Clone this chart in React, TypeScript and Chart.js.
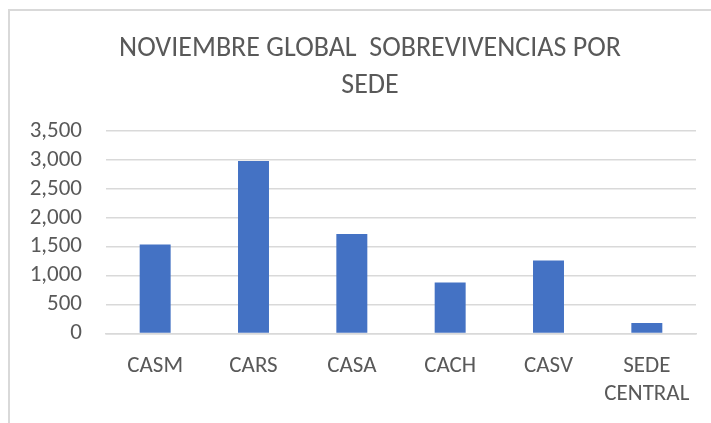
import React, { useEffect, useRef } from "react";
import { Chart, registerables } from "chart.js";

Chart.register(...registerables);

const categories: (string | string[])[] = ["CASM", "CARS", "CASA", "CACH", "CASV", ["SEDE", "CENTRAL"]];
const values: number[] = [1540, 2980, 1720, 880, 1260, 180];
const titleLines: string[] = ["NOVIEMBRE GLOBAL  SOBREVIVENCIAS POR", "SEDE"];
const yMax = 3500;
const yStep = 500;

const FONT = "Carlito, Calibri, 'Liberation Sans Narrow', 'Roboto', sans-serif";
const TEXT = "#595959";
const GRID = "#d9d9d9";
const BAR = "#4472C4";

const titlePlugin = {
  id: "customTitle",
  afterDraw(chart: any) {
    const ctx = chart.ctx;
    ctx.save();
    ctx.fillStyle = TEXT;
    ctx.font = `28px ${FONT}`;
    ctx.textAlign = "center";
    ctx.textBaseline = "middle";
    titleLines.forEach((line, i) => {
      ctx.fillText(line, 370, 49 + i * 37);
    });
    ctx.restore();
  },
};

export default function App() {
  const ref = useRef<HTMLCanvasElement | null>(null);
  useEffect(() => {
    if (!ref.current) return;
    const chart = new Chart(ref.current, {
      type: "bar",
      data: {
        labels: categories as any,
        datasets: [
          {
            data: values,
            backgroundColor: BAR,
            borderWidth: 0,
            barPercentage: 0.63,
            categoryPercentage: 0.5,
          },
        ],
      },
      options: {
        animation: false,
        responsive: false,
        layout: { padding: { top: 131, right: 15, left: 0, bottom: 0 } },
        plugins: {
          legend: { display: false },
          title: { display: false },
          tooltip: { enabled: false },
        },
        scales: {
          x: {
            grid: { display: false, drawTicks: false },
            border: { display: true, color: GRID, width: 1.5 },
            ticks: {
              color: TEXT,
              font: { family: FONT, size: 23, lineHeight: 1.24 },
              padding: 18,
              maxRotation: 0,
              autoSkip: false,
            },
            afterFit(scale: any) {
              scale.height = 89.5;
            },
          },
          y: {
            min: 0,
            max: yMax,
            grid: { color: GRID, lineWidth: 1.5, drawTicks: false },
            border: { display: false },
            ticks: {
              stepSize: yStep,
              autoSkip: false,
              color: TEXT,
              font: { family: FONT, size: 23 },
              padding: 24,
              callback: (v: any) => Number(v).toLocaleString("en-US"),
            },
            afterFit(scale: any) {
              scale.width = 106;
            },
          },
        },
      },
      plugins: [titlePlugin],
    });
    return () => chart.destroy();
  }, []);

  return (
    <div
      style={{
        position: "fixed",
        left: 0,
        top: 0,
        width: 711,
        height: 423,
        overflow: "hidden",
        background: "#fff",
      }}
    >
      <div
        style={{
          position: "absolute",
          left: 8,
          top: 9,
          width: 800,
          height: 500,
          border: "2px solid #d9d9d9",
        }}
      />
      <canvas
        ref={ref}
        width={711}
        height={423}
        style={{ position: "absolute", left: 0, top: 0, width: 711, height: 423 }}
      />
    </div>
  );
}
